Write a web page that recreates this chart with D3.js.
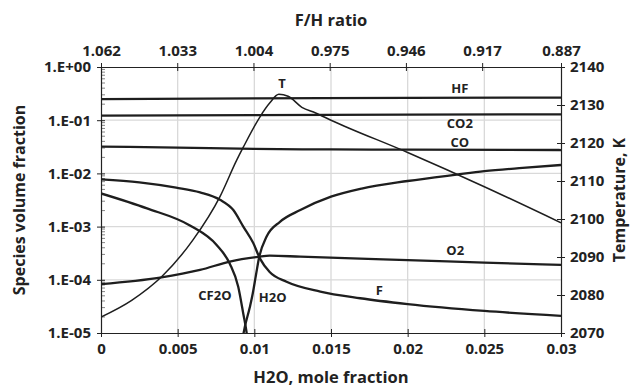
<!DOCTYPE html>
<html>
<head>
<meta charset="utf-8">
<script src="https://cdn.jsdelivr.net/npm/d3@7/dist/d3.min.js"></script>
<style>
  body { margin: 0; background: #fff; }
  text { font-family: "Open Sans", sans-serif; font-weight: 700; fill: #222; }
</style>
</head>
<body>
<figure id="chart" style="margin:0"></figure>
<script>
// axis ticks
const xTicks = [0, 0.005, 0.01, 0.015, 0.02, 0.025, 0.03];
const fhTicks = [1.062, 1.033, 1.004, 0.975, 0.946, 0.917, 0.887];
const fracTicks = [1, 1e-1, 1e-2, 1e-3, 1e-4, 1e-5];
const tempTicks = [2070, 2080, 2090, 2100, 2110, 2120, 2130, 2140];

// species (volume fraction, log axis)
const hfX = [0, 0.01, 0.02, 0.03];
const hfY = [0.25, 0.258, 0.263, 0.266];
const co2X = [0, 0.01, 0.02, 0.03];
const co2Y = [0.122, 0.125, 0.127, 0.129];
const coX = [0, 0.005, 0.01, 0.015, 0.02, 0.03];
const coY = [0.032, 0.0305, 0.0288, 0.0282, 0.0279, 0.0275];
const o2X = [0, 0.00385, 0.00646, 0.0084, 0.01026, 0.011, 0.013, 0.0169, 0.02, 0.025, 0.03];
const o2Y = [8.3e-5, 1.1e-4, 1.53e-4, 2.2e-4, 2.7e-4, 2.85e-4, 2.72e-4, 2.5e-4, 2.35e-4, 2.1e-4, 1.9e-4];
const fX = [0, 0.0025, 0.0049, 0.00646, 0.00776, 0.00863, 0.00928, 0.00993, 0.01037, 0.011, 0.0121, 0.0143, 0.0169, 0.02, 0.025, 0.03];
const fY = [7.7e-3, 6.8e-3, 5.4e-3, 4.4e-3, 3.2e-3, 2.05e-3, 1e-3, 4.9e-4, 2.5e-4, 1.4e-4, 9.2e-5, 6e-5, 4.5e-5, 3.5e-5, 2.6e-5, 2.1e-5];
const cf2oX = [0, 0.003, 0.0058, 0.00754, 0.0084, 0.00895, 0.00928, 0.0095, 0.0097];
const cf2oY = [4.2e-3, 2.2e-3, 1.05e-3, 4.5e-4, 2e-4, 7.4e-5, 2.3e-5, 1e-5, 3e-6];
const h2oX = [0.0091, 0.0093, 0.0097, 0.0099, 0.0101, 0.01032, 0.0108, 0.01167, 0.013, 0.015, 0.017, 0.02, 0.0232, 0.025, 0.0275, 0.03];
const h2oY = [4e-6, 1e-5, 3e-5, 5.6e-5, 1.2e-4, 2.7e-4, 6.5e-4, 1.23e-3, 2.05e-3, 3.65e-3, 5.2e-3, 7.2e-3, 9.5e-3, 1.1e-2, 1.27e-2, 1.44e-2];

// temperature (secondary axis)
const tX = [0, 0.002, 0.004, 0.006, 0.00776, 0.00885, 0.00928, 0.01037, 0.011, 0.0116, 0.0122, 0.0131, 0.014, 0.015, 0.02, 0.025, 0.03];
const tY = [2074.2, 2078.6, 2085, 2094.5, 2105.9, 2115.5, 2118.9, 2126.9, 2130.5, 2132.8, 2132.3, 2129.4, 2127.9, 2126, 2117.5, 2108.5, 2099];

// curve labels: name, x value, value on its axis
const labelNames = ["T", "HF", "CO2", "CO", "O2", "F", "CF2O", "H2O"];
const labelX = [0.0118, 0.0234, 0.0234, 0.0234, 0.0231, 0.01815, 0.00743, 0.0112];
const labelV = [2135.8, 0.40, 0.0898, 0.0394, 3.6e-4, 6.4e-5, 5.2e-5, 4.7e-5];

const W = 632, H = 388;
const margin = { top: 67, right: 71, bottom: 55, left: 101 };
const width = W - margin.left - margin.right;
const height = H - margin.top - margin.bottom;

const svg = d3.select("#chart").append("svg")
  .attr("width", W).attr("height", H);
const g = svg.append("g")
  .attr("transform", "translate(" + margin.left + "," + margin.top + ")");

const x = d3.scaleLinear().domain([0, 0.03]).range([0, width]);
const xTop = d3.scaleLinear().domain([1.062, 0.887]).range([0, width]);
const y = d3.scaleLog().domain([1e-5, 1]).range([height, 0]);
const yT = d3.scaleLinear().domain([2070, 2140]).range([height, 0]);

// grid
g.append("g").selectAll("line").data(xTicks.slice(1, -1)).enter().append("line")
  .attr("x1", d => x(d)).attr("x2", d => x(d))
  .attr("y1", 0).attr("y2", height)
  .attr("stroke", "#d9d9d9").attr("stroke-width", 1.3);
g.append("g").selectAll("line").data(fracTicks.slice(1, -1)).enter().append("line")
  .attr("x1", 0).attr("x2", width)
  .attr("y1", d => y(d)).attr("y2", d => y(d))
  .attr("stroke", "#d9d9d9").attr("stroke-width", 1.3);

// minor ticks on log axis
const minor = [];
for (let e = -5; e < 0; e++) for (let m = 2; m <= 9; m++) minor.push(m * Math.pow(10, e));
g.append("g").selectAll("line").data(minor).enter().append("line")
  .attr("x1", 0).attr("x2", 4)
  .attr("y1", d => y(d)).attr("y2", d => y(d))
  .attr("stroke", "#666").attr("stroke-width", 0.8);

function styleAxis(sel) {
  sel.select(".domain").attr("stroke", "#222").attr("stroke-width", 1.2);
  sel.selectAll(".tick line").attr("stroke", "#222").attr("stroke-width", 1);
  sel.selectAll("text").style("font-size", "15px").attr("fill", "#222");
}

// axes
const xAxis = g.append("g").attr("transform", "translate(0," + height + ")")
  .call(d3.axisBottom(x).tickValues(xTicks).tickFormat(d => d3.format("")(+d.toFixed(3)))
    .tickSizeInner(4).tickSizeOuter(0).tickPadding(6));
xAxis.call(styleAxis);
xAxis.selectAll(".tick line").attr("y1", -4);

const topAxis = g.append("g")
  .call(d3.axisTop(xTop).tickValues(fhTicks).tickFormat(d3.format(".3f"))
    .tickSizeInner(4).tickSizeOuter(0).tickPadding(7));
topAxis.call(styleAxis);
topAxis.selectAll(".tick line").attr("y1", 4);

const leftAxis = g.append("g")
  .call(d3.axisLeft(y).tickValues(fracTicks).tickFormat(d => d3.format(".0e")(d).replace("e", "E").replace(/E([+-])(\d)$/, "E$10$2").replace(/^(\d)E/, "$1.E"))
    .tickSizeInner(4).tickSizeOuter(0).tickPadding(6));
leftAxis.call(styleAxis);
leftAxis.selectAll(".tick line").attr("x1", 4);

const rightAxis = g.append("g").attr("transform", "translate(" + width + ",0)")
  .call(d3.axisRight(yT).tickValues(tempTicks).tickFormat(d3.format("d"))
    .tickSizeInner(4).tickSizeOuter(0).tickPadding(5));
rightAxis.call(styleAxis);
rightAxis.selectAll(".tick line").attr("x1", -4);

// clip for curves
svg.append("defs").append("clipPath").attr("id", "plot")
  .append("rect").attr("width", width).attr("height", height);
const curves = g.append("g").attr("clip-path", "url(#plot)");

const smooth = d3.line().curve(d3.curveMonotoneX);
const species = [[hfX, hfY], [co2X, co2Y], [coX, coY], [o2X, o2Y], [fX, fY], [cf2oX, cf2oY], [h2oX, h2oY]];
species.forEach(s => {
  curves.append("path")
    .attr("d", smooth(s[0].map((v, i) => [x(v), y(s[1][i])])))
    .attr("fill", "none").attr("stroke", "#1e1e1e").attr("stroke-width", 2.3);
});
curves.append("path")
  .attr("d", smooth(tX.map((v, i) => [x(v), yT(tY[i])])))
  .attr("fill", "none").attr("stroke", "#1e1e1e").attr("stroke-width", 1.5);

// curve labels
g.append("g").selectAll("text").data(labelNames).enter().append("text")
  .attr("x", (d, i) => x(labelX[i]))
  .attr("y", (d, i) => i === 0 ? yT(labelV[i]) : y(labelV[i]))
  .attr("text-anchor", "middle").attr("dominant-baseline", "central")
  .style("font-size", "13px")
  .text(d => d);

// axis titles
svg.append("text").attr("x", margin.left + width / 2).attr("y", 19)
  .attr("text-anchor", "middle").attr("dominant-baseline", "central")
  .style("font-size", "16.5px").text("F/H ratio");
svg.append("text").attr("x", margin.left + width / 2).attr("y", 376)
  .attr("text-anchor", "middle").attr("dominant-baseline", "central")
  .style("font-size", "16.5px").text("H2O, mole fraction");
svg.append("text").attr("transform", "translate(19," + (margin.top + height / 2) + ") rotate(-90)")
  .attr("text-anchor", "middle").attr("dominant-baseline", "central")
  .style("font-size", "16px").text("Species volume fraction");
svg.append("text").attr("transform", "translate(619," + (margin.top + height / 2) + ") rotate(-90)")
  .attr("text-anchor", "middle").attr("dominant-baseline", "central")
  .style("font-size", "16px").text("Temperature, K");
</script>
</body>
</html>
